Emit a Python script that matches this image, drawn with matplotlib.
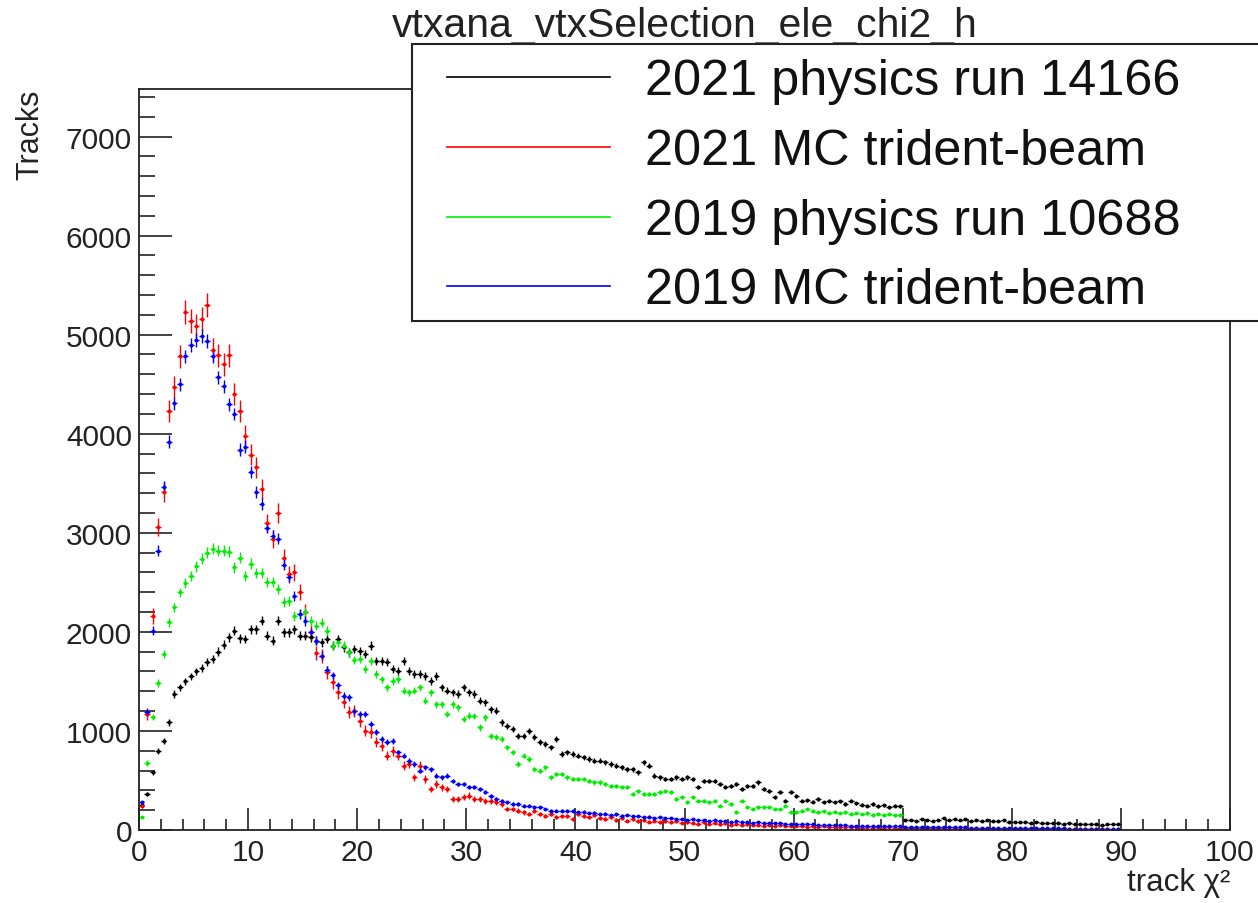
import numpy as np
import matplotlib
matplotlib.use("Agg")
import matplotlib.pyplot as plt
from matplotlib.patches import Rectangle
from matplotlib.lines import Line2D
from matplotlib.ticker import MultipleLocator

plt.rcParams['font.family'] = ['Liberation Sans', 'DejaVu Sans']

title = "vtxana_vtxSelection_ele_chi2_h"
xlabel = "track χ²"
ylabel = "Tracks"
bin_width = 0.5

labels = ["2021 physics run 14166", "2021 MC trident-beam",
          "2019 physics run 10688", "2019 MC trident-beam"]
colors = ["#000000", "#ff0000", "#00ee00", "#0000ff"]
err_scale = [1.0, 1.7, 1.0, 1.0]

data_2021 = [
    250, 363, 582, 800, 901, 1086, 1372, 1440, 1500, 1550,
    1600, 1633, 1700, 1725, 1800, 1870, 1944, 2011, 1935, 1927,
    2028, 2028, 2112, 1961, 1910, 2112, 1995, 1995, 2028, 1961,
    1961, 1944, 1910, 1894, 1927, 1860, 1927, 1843, 1793, 1826,
    1809, 1776, 1860, 1708, 1708, 1692, 1624, 1607, 1708, 1607,
    1574, 1574, 1557, 1507, 1557, 1440, 1406, 1389, 1372, 1440,
    1390, 1372, 1305, 1288, 1221, 1204, 1086, 1052, 1019, 951,
    951, 1002, 935, 885, 868, 834, 918, 767, 784, 767,
    750, 733, 716, 699, 699, 683, 666, 649, 632, 615,
    615, 582, 683, 649, 548, 531, 515, 515, 531, 515,
    531, 515, 430, 497, 497, 497, 464, 430, 447, 464,
    414, 447, 447, 481, 414, 397, 330, 380, 296, 380,
    346, 296, 300, 285, 313, 280, 296, 279, 290, 262,
    296, 270, 255, 245, 262, 240, 250, 229, 245, 240,
    105, 100, 95, 110, 100, 94, 105, 120, 98, 110,
    100, 111, 95, 104, 90, 100, 94, 88, 96, 77,
    80, 85, 77, 70, 78, 72, 66, 74, 70, 62,
    68, 60, 65, 58, 62, 60, 55, 62, 58, 60,
]

mc_2021 = [
    245, 1170, 2160, 3060, 3410, 4230, 4470, 4780, 5230, 5140,
    5090, 5160, 5300, 4850, 4790, 4700, 4790, 4400, 4230, 3980,
    3790, 3660, 3440, 3100, 2940, 3200, 2750, 2580, 2600, 2400,
    2200, 1995, 1790, 1760, 1590, 1490, 1390, 1290, 1190, 1200,
    1100, 1002, 986, 885, 851, 750, 800, 750, 649, 666,
    531, 649, 515, 414, 464, 430, 414, 313, 313, 330,
    347, 313, 313, 296, 296, 279, 262, 212, 212, 195,
    178, 161, 195, 161, 144, 161, 128, 144, 144, 111,
    161, 140, 128, 150, 120, 111, 135, 100, 118, 95,
    110, 90, 102, 85, 94, 80, 88, 76, 92, 70,
    78, 72, 65, 80, 62, 70, 58, 66, 55, 60,
    52, 58, 48, 55, 45, 50, 42, 48, 40, 45,
    38, 42, 35, 40, 33, 38, 30, 35, 28, 33,
    27, 30, 25, 29, 24, 27, 22, 26, 20, 24,
    19, 22, 18, 21, 17, 20, 16, 19, 15, 18,
    14, 17, 13, 16, 12, 15, 12, 14, 11, 13,
    10, 12, 10, 11, 9, 11, 8, 10, 8, 9,
    7, 9, 7, 8, 6, 8, 6, 7, 5, 6,
]

data_2019 = [
    131, 676, 1140, 1483, 1776, 2095, 2247, 2398, 2492, 2566,
    2660, 2740, 2800, 2840, 2820, 2820, 2810, 2650, 2750, 2560,
    2690, 2590, 2590, 2500, 2500, 2430, 2300, 2310, 2160, 2180,
    2200, 2110, 2060, 2090, 2010, 1860, 1894, 1860, 1793, 1720,
    1725, 1624, 1708, 1574, 1520, 1440, 1507, 1524, 1406, 1389,
    1406, 1440, 1305, 1389, 1271, 1271, 1170, 1271, 1238, 1120,
    1153, 1150, 1036, 1137, 951, 935, 918, 834, 784, 666,
    750, 716, 615, 598, 632, 531, 565, 565, 531, 515,
    515, 515, 497, 481, 481, 464, 447, 447, 430, 430,
    363, 397, 363, 363, 363, 380, 397, 380, 313, 330,
    279, 330, 296, 296, 279, 296, 245, 296, 262, 178,
    296, 229, 212, 229, 229, 229, 212, 212, 245, 178,
    178, 195, 212, 195, 178, 190, 175, 185, 170, 178,
    165, 172, 160, 168, 155, 165, 150, 160, 148, 155,
]

mc_2019 = [
    280, 1190, 2010, 2820, 3460, 3920, 4310, 4500, 4780, 4900,
    4950, 4990, 4940, 4780, 4570, 4480, 4300, 4200, 3840, 3870,
    3610, 3410, 3290, 3050, 2970, 2940, 2680, 2550, 2360, 2180,
    2110, 1995, 1910, 1760, 1620, 1560, 1460, 1355, 1340, 1200,
    1170, 1170, 1070, 986, 918, 885, 901, 784, 750, 699,
    666, 598, 632, 615, 548, 531, 548, 497, 464, 464,
    437, 430, 414, 380, 346, 313, 296, 279, 262, 262,
    245, 245, 229, 229, 212, 195, 195, 195, 195, 195,
    178, 185, 170, 176, 160, 165, 150, 158, 145, 150,
    138, 142, 130, 135, 122, 128, 118, 120, 110, 115,
    105, 108, 98, 102, 92, 96, 88, 90, 82, 86,
    78, 80, 74, 76, 70, 72, 66, 68, 62, 64,
    60, 60, 56, 58, 52, 54, 50, 51, 47, 48,
    44, 45, 42, 43, 40, 41, 38, 39, 36, 37,
    35, 34, 33, 32, 31, 31, 29, 30, 28, 28,
    26, 27, 25, 25, 24, 24, 22, 23, 21, 21,
    20, 20, 19, 19, 18, 18, 17, 17, 16, 16,
    15, 15, 14, 14, 13, 13, 12, 12, 11, 11,
]

series = [data_2021, mc_2021, data_2019, mc_2019]

W, H = 1258, 904
fig = plt.figure(figsize=(W / 100, H / 100), dpi=100)
fig.patch.set_facecolor("white")

def fx(x):
    return x / W

def fy(y):
    return 1 - y / H

ax = fig.add_axes([fx(139), fy(831), fx(1230) - fx(139), fy(90) - fy(831)])

for vals, col, es in zip(series, colors, err_scale):
    v = np.array(vals, dtype=float)
    centers = (np.arange(len(v)) + 0.5) * bin_width
    err = np.sqrt(v) * es
    ax.errorbar(centers, v, xerr=bin_width / 2, yerr=err, fmt='o', ms=2.8,
                color=col, ecolor=col, elinewidth=1.0, capsize=0,
                markeredgewidth=0)

ax.set_xlim(0, 100)
ax.set_ylim(0, 7480)
ax.xaxis.set_major_locator(MultipleLocator(10))
ax.xaxis.set_minor_locator(MultipleLocator(2))
ax.yaxis.set_major_locator(MultipleLocator(1000))
ax.yaxis.set_minor_locator(MultipleLocator(200))
ax.tick_params(axis='both', which='both', direction='in', top=False,
               right=False, width=1.2, labelsize=21.5, colors='#222222')
ax.tick_params(axis='x', which='major', length=16, pad=6)
ax.tick_params(axis='x', which='minor', length=8)
ax.tick_params(axis='y', which='major', length=24, pad=5)
ax.tick_params(axis='y', which='minor', length=11.5)
for sp in ax.spines.values():
    sp.set_linewidth(1.3)
    sp.set_color('#222222')

# axis titles (ROOT style: at the ends)
fig.text(fx(1230), fy(883), xlabel, ha='right', va='center', fontsize=22.5,
         color='#222222')
fig.text(fx(30), fy(90), ylabel, ha='center', va='top', rotation=90,
         fontsize=22, color='#222222')

# title
fig.text(fx(685), fy(37), title, ha='center', va='baseline', fontsize=29.5,
         color='#222222')

# legend box
rect = Rectangle((fx(412), fy(322)), fx(1270) - fx(412), fy(45) - fy(322),
                 transform=fig.transFigure, facecolor='white',
                 edgecolor='#222222', linewidth=1.5, zorder=5, clip_on=False)
fig.add_artist(rect)
rows = [78, 148, 218, 287]
for lab, col, yrow in zip(labels, colors, rows):
    ln = Line2D([fx(447), fx(610)], [fy(yrow), fy(yrow)], color=col,
                lw=1.2, transform=fig.transFigure, zorder=6)
    fig.add_artist(ln)
    fig.text(fx(645), fy(yrow + 17), lab, ha='left', va='baseline',
             fontsize=36.3, color='#111111', zorder=7)

fig.savefig("out.png", dpi=100)
